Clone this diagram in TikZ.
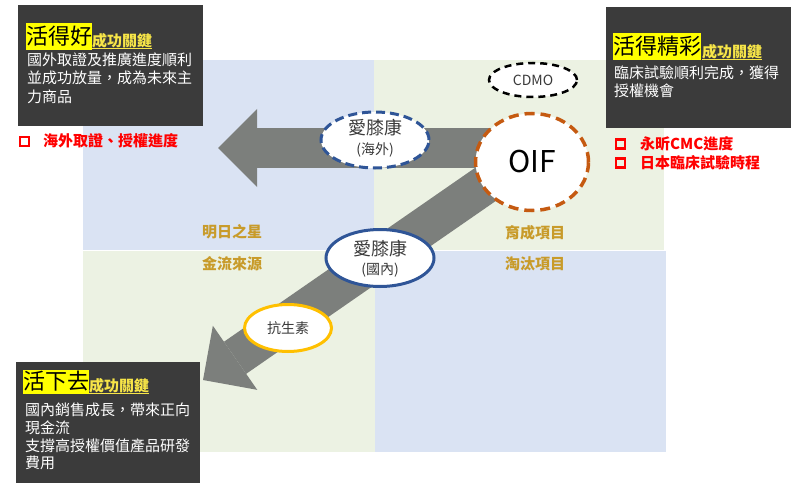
\documentclass[tikz,border=0pt]{standalone}
\usepackage{fontspec}
\setmainfont{Noto Sans CJK TC}
\usetikzlibrary{shapes.geometric,arrows.meta}
\definecolor{qblue}{HTML}{DAE3F3}
\definecolor{qgreen}{HTML}{ECF2E3}
\definecolor{boxgray}{HTML}{3B3B3B}
\definecolor{hlyellow}{HTML}{FFFF00}
\definecolor{keyyellow}{HTML}{F7E548}
\definecolor{goldtxt}{HTML}{C89B2A}
\definecolor{arrowgray}{HTML}{7C7F7C}
\definecolor{eblue}{HTML}{2F5597}
\definecolor{eorange}{HTML}{C55A11}
\definecolor{egold}{HTML}{FFC000}
\definecolor{etxt}{HTML}{3A3A3A}
\definecolor{redtxt}{HTML}{FF0000}
\begin{document}
\begin{tikzpicture}[x=1pt,y=-1pt,
  darkbox/.style={fill=boxgray, draw=none, anchor=north west, inner sep=0},
  ttl/.style={font=\fontsize{22}{24}\selectfont, fill=hlyellow, text=black, anchor=west, inner xsep=0, inner ysep=0},
  keytxt/.style={font=\bfseries\fontsize{15}{18}\selectfont, text=keyyellow, anchor=west, inner sep=0},
  body/.style={font=\fontsize{15}{18}\selectfont, text=white, anchor=west, inner sep=0},
  redsq/.style={draw=redtxt, line width=2.3pt, minimum size=9pt, inner sep=0},
  redlab/.style={font=\bfseries\fontsize{15}{18}\selectfont, text=redtxt, anchor=west, inner sep=0},
  qlab/.style={font=\bfseries\fontsize{15}{18}\selectfont, text=goldtxt, anchor=west, inner sep=0},
  bigarrow/.style={draw=arrowgray, line width=39pt, -{Triangle[length=39pt,width=78pt,line width=0pt]}},
  ell/.style={ellipse, fill=white, inner sep=0, line width=3pt},
  etext/.style={text=etxt, inner sep=0}
]
\useasboundingbox (0,0) rectangle (800,492);
\fill[white] (0,0) rectangle (800,492);
% quadrants
\fill[qblue] (83,60) rectangle (374,250);
\fill[qgreen] (374,60) rectangle (664,250);
\fill[qgreen] (83,251) rectangle (375,452);
\fill[qblue] (375,251) rectangle (666,452);
% quadrant labels
\node[qlab] (q1) at (202,232) {明日之星};
\node[qlab] (q2) at (202,264) {金流來源};
\node[qlab] (q3) at (505,233) {育成項目};
\node[qlab] (q4) at (505,264) {淘汰項目};
% big arrows
\coordinate (hstart) at (515,148);
\coordinate (htip) at (218,148);
\draw[bigarrow] (hstart) -- (htip);
\coordinate (dstart) at (525,157);
\coordinate (dtip) at (203,380);
\draw[bigarrow] (dstart) -- (dtip);
% ellipses
\node[ell, draw=black, line width=2.5pt, dash pattern=on 7pt off 5pt, minimum width=88pt, minimum height=34pt,
      font=\fontsize{14}{16}\selectfont, text=etxt] (cdmo) at (533,80) {CDMO};
\node[ell, draw=eblue, dash pattern=on 9pt off 5pt, minimum width=108pt, minimum height=56pt] (ikhw) at (375,140) {};
\node[etext, font=\fontsize{18}{20}\selectfont] (ikhw1) at (375,128) {愛膝康};
\node[etext, font=\fontsize{14}{16}\selectfont] (ikhw2) at (375,150) {(海外)};
\node[ell, draw=eorange, line width=3.5pt, dash pattern=on 10pt off 6pt, minimum width=113pt, minimum height=97pt,
      font=\fontsize{30}{32}\selectfont, text=black] (oif) at (532,162) {OIF};
\node[ell, draw=eblue, minimum width=108pt, minimum height=57pt] (ikdm) at (380,258) {};
\node[etext, font=\fontsize{18}{20}\selectfont] (ikdm1) at (380,249) {愛膝康};
\node[etext, font=\fontsize{14}{16}\selectfont] (ikdm2) at (380,270) {(國內)};
\node[ell, draw=egold, minimum width=87pt, minimum height=47pt, font=\fontsize{14}{16}\selectfont, text=etxt] (kss) at (288,328) {抗生素};
% box 1
\node[darkbox, minimum width=185pt, minimum height=121pt] (box1) at (18,5) {};
\node[ttl, minimum height=27pt] (t1) at (26,36.5) {活得好};
\node[keytxt] (k1) at (92,41) {成功關鍵};
\draw[keyyellow, line width=1pt] (k1.south west) -- (k1.south east);
\node[body] (b1a) at (27,60) {國外取證及推廣進度順利};
\node[body] (b1b) at (27,78) {並成功放量，成為未來主};
\node[body] (b1c) at (27,96.5) {力商品};
\node[redsq] (s1) at (24.5,141.5) {};
\node[redlab] (r1) at (43,141) {海外取證、授權進度};
% box 2
\node[darkbox, minimum width=185pt, minimum height=121pt] (box2) at (606,7) {};
\node[ttl, minimum height=27pt] (t2) at (613,46.5) {活得精彩};
\node[keytxt] (k2) at (702,52) {成功關鍵};
\draw[keyyellow, line width=1pt] (k2.south west) -- (k2.south east);
\node[body] (b2a) at (614,73) {臨床試驗順利完成，獲得};
\node[body] (b2b) at (614,91) {授權機會};
\node[redsq] (s2) at (620.5,144) {};
\node[redlab] (r2) at (640,144) {永昕CMC進度};
\node[redsq] (s3) at (620.5,163) {};
\node[redlab] (r3) at (640,163) {日本臨床試驗時程};
% box 3
\node[darkbox, minimum width=184pt, minimum height=121pt] (box3) at (16,362) {};
\node[ttl, minimum height=24pt] (t3) at (23,381.5) {活下去};
\node[keytxt] (k3) at (89,386) {成功關鍵};
\draw[keyyellow, line width=1pt] (k3.south west) -- (k3.south east);
\node[body] (b3a) at (25,410) {國內銷售成長，帶來正向};
\node[body] (b3b) at (25,428) {現金流};
\node[body] (b3c) at (25,446) {支撐高授權價值產品研發};
\node[body] (b3d) at (25,463) {費用};
\end{tikzpicture}
\end{document}
